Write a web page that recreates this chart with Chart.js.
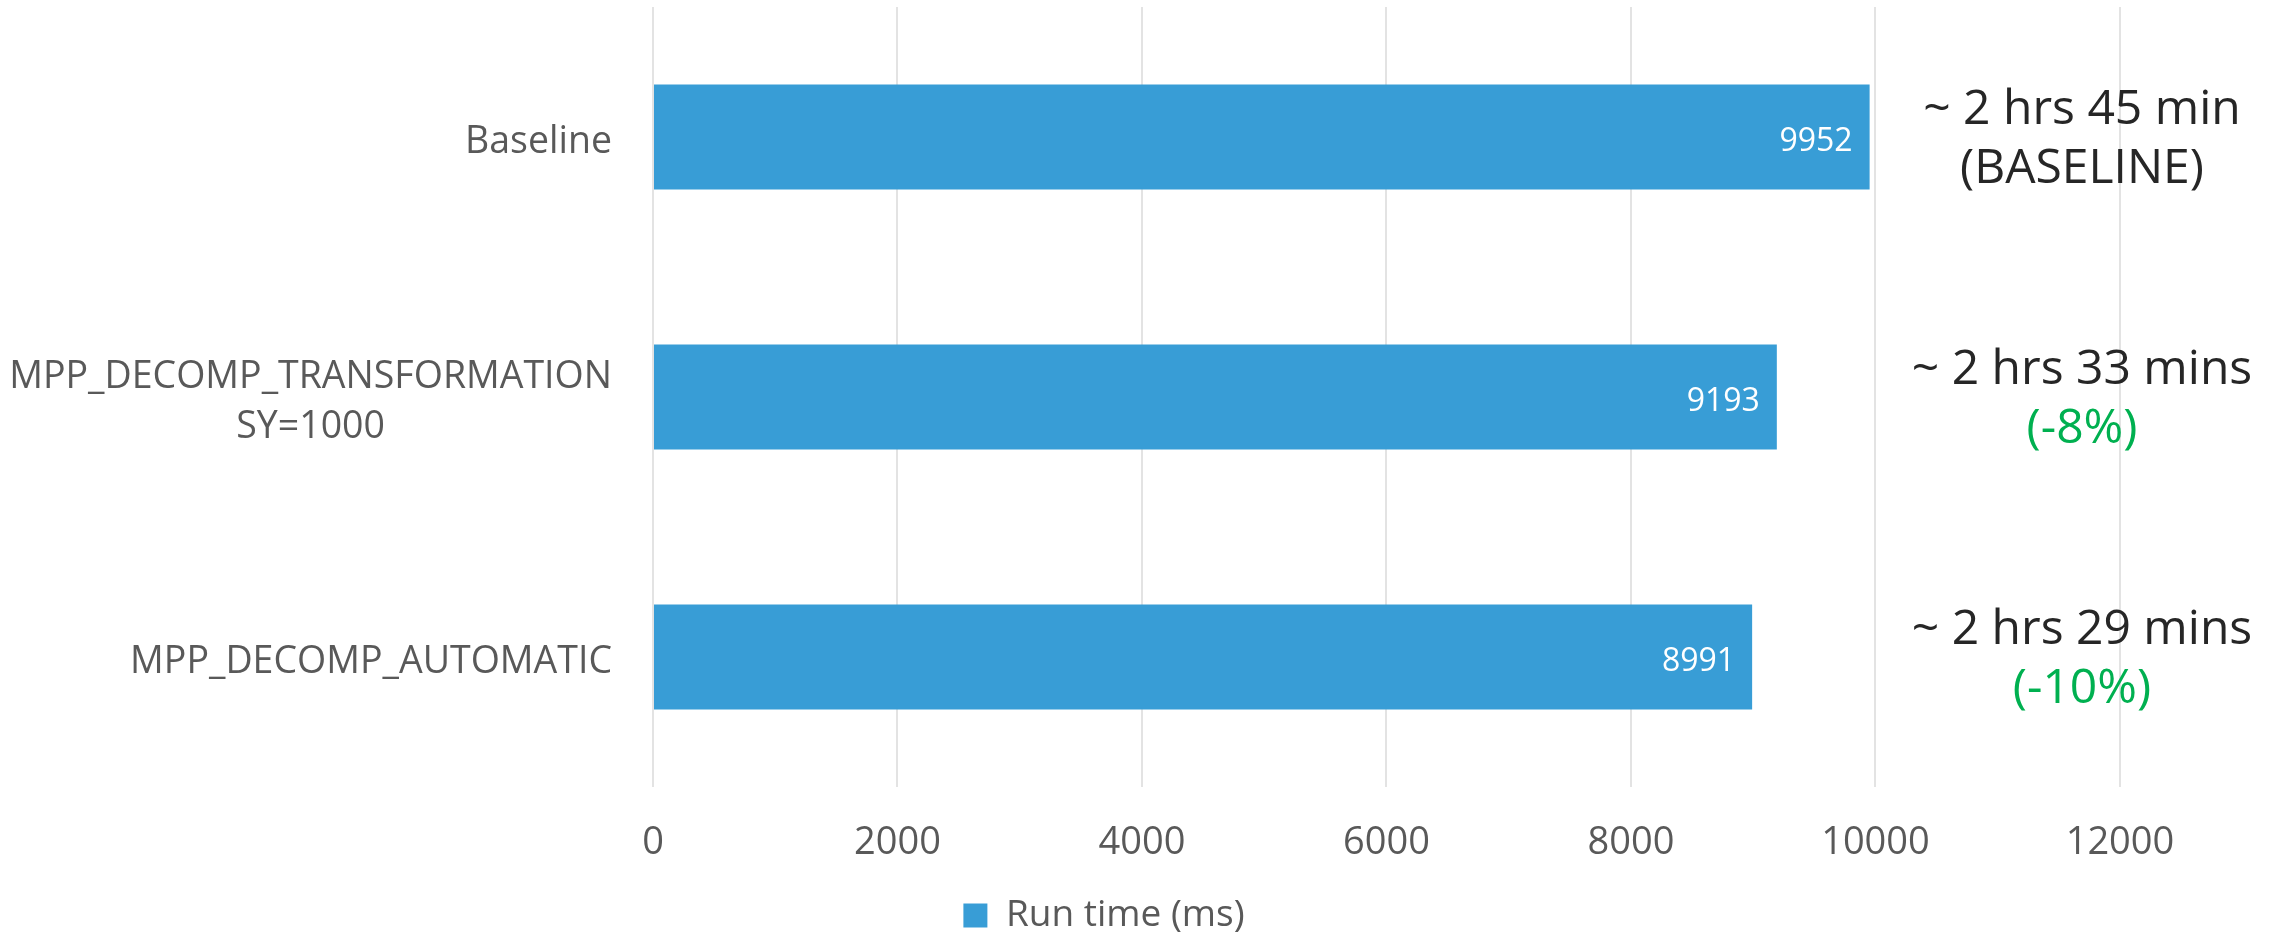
<!DOCTYPE html>
<html>
<head>
<meta charset="utf-8">
<script src="https://cdn.jsdelivr.net/npm/chart.js@4/dist/chart.umd.min.js"></script>
<style>
  html, body { margin:0; padding:0; background:#fff; }
  #wrap { width:2272px; height:936px; }
</style>
</head>
<body>
<div id="wrap"><canvas id="chart-run" width="2272" height="936"></canvas></div>
<script>
    // ─── Data ───────────────────────────────────────────────────────────
    const categories = [
        ['Baseline'],
        ['MPP_DECOMP_TRANSFORMATION', 'SY=1000'],
        ['MPP_DECOMP_AUTOMATIC']
    ];
    const runTimes = [9952, 9193, 8991];
    const seriesLabel = 'Run time (ms)';
    const xTicks = [0, 2000, 4000, 6000, 8000, 10000, 12000];
    const noteTime = ['~ 2 hrs 45 min', '~ 2 hrs 33 mins', '~ 2 hrs 29 mins'];
    const noteDelta = ['(BASELINE)', '(-8%)', '(-10%)'];

    const FONT = '"Open Sans", "Noto Sans", sans-serif';
    const GREY = '#595959';

    // category labels: right-aligned block, lines centred inside it
    const catLabels = {
        id: 'catLabels',
        afterDraw(chart) {
            const { ctx, chartArea, scales: { y } } = chart;
            ctx.save();
            ctx.font = '37.5px ' + FONT;
            ctx.fillStyle = GREY;
            ctx.textAlign = 'center';
            ctx.textBaseline = 'middle';
            categories.forEach((lines, i) => {
                const widest = Math.max(...lines.map(l => ctx.measureText(l).width));
                const cx = chartArea.left - 41 - widest / 2;
                const cy = y.getPixelForValue(i) + 5 - (lines.length - 1) * 50 / 2;
                lines.forEach((l, k) => ctx.fillText(l, cx, cy + k * 50));
            });
            ctx.restore();
        }
    };

    // values inside bars + notes on the right
    const barNotes = {
        id: 'barNotes',
        afterDatasetsDraw(chart) {
            const { ctx, scales: { x } } = chart;
            const bars = chart.getDatasetMeta(0).data;
            ctx.save();
            ctx.textBaseline = 'middle';
            bars.forEach((b, i) => {
                ctx.font = '32px ' + FONT;
                ctx.fillStyle = '#fff';
                ctx.textAlign = 'right';
                ctx.fillText(String(runTimes[i]), b.x - 17, b.y + 5);

                const nx = x.getPixelForValue(12000) - 38;
                ctx.font = '48px ' + FONT;
                ctx.textAlign = 'center';
                ctx.fillStyle = '#262626';
                ctx.fillText(noteTime[i], nx, b.y - 27);
                ctx.fillStyle = i === 0 ? '#262626' : '#00B050';
                ctx.fillText(noteDelta[i], nx, b.y + 32);
            });
            ctx.restore();
        }
    };

    new Chart(document.getElementById('chart-run'), {
        type: 'bar',
        data: {
            labels: categories,
            datasets: [{
                label: seriesLabel,
                data: runTimes,
                backgroundColor: '#389DD6',
                borderWidth: 0,
                barPercentage: 0.403,
                categoryPercentage: 1
            }]
        },
        options: {
            indexAxis: 'y',
            responsive: false,
            animation: false,
            devicePixelRatio: 1,
            layout: { padding: { top: 7, right: 64, bottom: -8, left: 0 } },
            plugins: {
                tooltip: { enabled: false },
                legend: {
                    position: 'bottom',
                    labels: {
                        boxWidth: 24, boxHeight: 24, padding: 32,
                        color: GREY, font: { family: FONT, size: 37 }
                    }
                }
            },
            scales: {
                x: {
                    min: 0, max: 12720,
                    afterBuildTicks: s => { s.ticks = xTicks.map(v => ({ value: v })); },
                    afterFit: s => { s.height = 78; },
                    ticks: {
                        color: GREY, font: { family: FONT, size: 38 }, padding: 33, maxRotation: 0,
                        callback: v => String(v)
                    },
                    grid: { color: '#e3e3e3', lineWidth: 2, drawTicks: false },
                    border: { display: false }
                },
                y: {
                    afterFit: s => { s.width = 653; },
                    ticks: { display: false },
                    grid: { display: false, drawTicks: false },
                    border: { display: false }
                }
            }
        },
        plugins: [catLabels, barNotes]
    });
</script>
</body>
</html>
